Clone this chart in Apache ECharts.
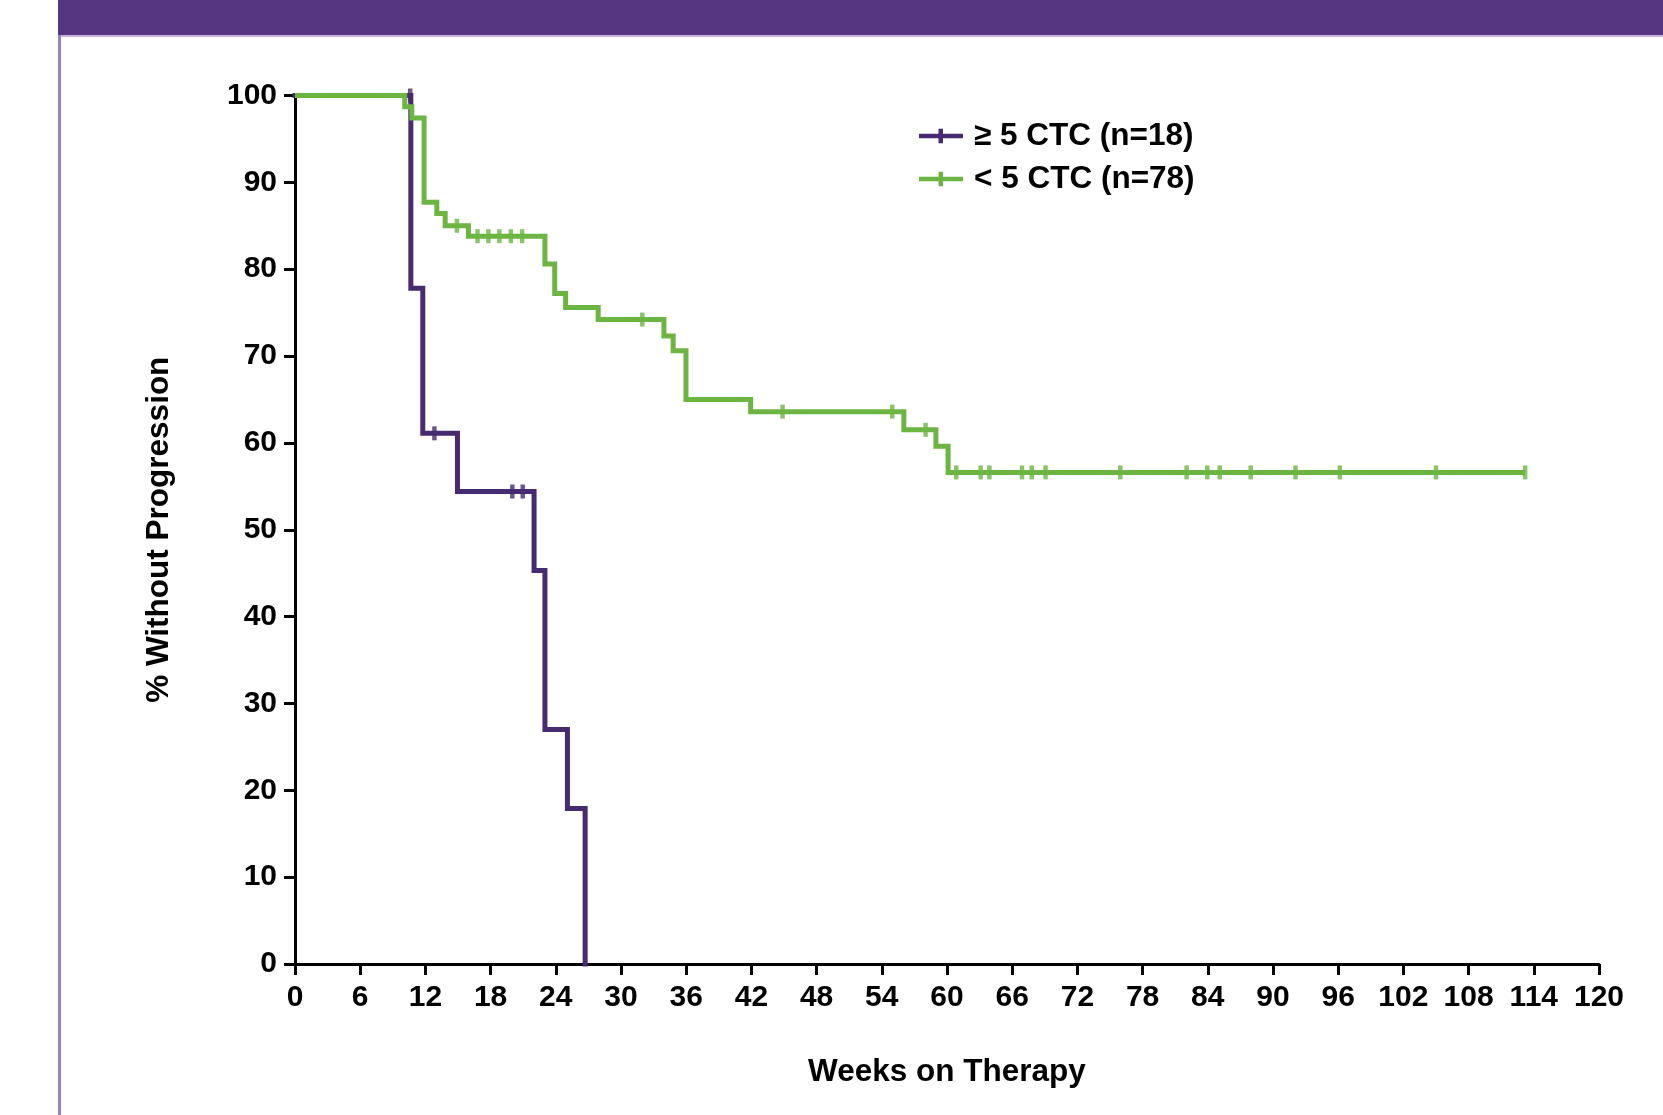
<!DOCTYPE html>
<html>
<head>
<meta charset="utf-8">
<script src="https://cdn.jsdelivr.net/npm/echarts@6/dist/echarts.min.js"></script>
<style>
html,body{margin:0;padding:0;background:#fff;}
#chart{width:1663px;height:1115px;}
</style>
</head>
<body>
<div id="chart"></div>
<script>
// ---- data ----
const seriesNames = ['≥ 5 CTC (n=18)', '< 5 CTC (n=78)'];
const xAxisTitle = 'Weeks on Therapy';
const yAxisTitle = '% Without Progression';

// ≥ 5 CTC : event times (weeks) and survival (%) after each event
const hiTimes = [10.66, 11.76, 14.95, 22.0, 23.0, 25.07, 26.7];
const hiSurv  = [77.8, 61.1, 54.4, 45.3, 27.0, 17.9, 0];
const hiCensor = [10.6, 12.83, 20.0, 20.96];

// < 5 CTC
const loTimes = [10.1, 10.75, 11.88, 13.05, 13.82, 15.96, 23.0, 23.9, 24.9, 27.9, 33.95, 34.8, 35.98, 41.93, 56.03, 58.98, 60.1];
const loSurv  = [98.7, 97.4, 87.7, 86.4, 85.0, 83.8, 80.6, 77.2, 75.6, 74.2, 72.3, 70.6, 65.0, 63.6, 61.5, 59.6, 56.6];
const loCensor = [14.9, 16.8, 17.8, 18.8, 19.86, 20.9, 31.96, 44.87, 54.96, 58.03, 60.85, 63.1, 63.9, 66.9, 67.8, 69.07, 75.95, 82.05, 83.95, 85.1, 87.95, 92.07, 96.15, 105.0, 113.2];

const xMin = 0, xMax = 120, xStep = 6;
const yMin = 0, yMax = 100, yStep = 10;

const purple = '#462B70';
const green = '#6DB543';
const FONT = '"Liberation Sans", Arial, Helvetica, sans-serif';

function stepPoints(times, surv, censors) {
  const pts = [[0, 100]];
  let prev = 100;
  for (let i = 0; i < times.length; i++) {
    pts.push([times[i], prev]);
    pts.push([times[i], surv[i]]);
    prev = surv[i];
  }
  const lastC = censors.length ? Math.max.apply(null, censors) : 0;
  if (lastC > times[times.length - 1]) pts.push([lastC, prev]);
  return pts;
}
function survAt(times, surv, t) {
  let s = 100;
  for (let i = 0; i < times.length; i++) { if (times[i] <= t) s = surv[i]; }
  return s;
}
function censorPoints(times, surv, censors) {
  return censors.map(t => [t, survAt(times, surv, t)]);
}

const chart = echarts.init(document.getElementById('chart'), null, {renderer: 'canvas'});
const axisText = {color: '#000', fontSize: 30, fontWeight: 'bold', fontFamily: FONT};
const titleText = {color: '#000', fontSize: 31.5, fontWeight: 'bold', fontFamily: FONT};
const legendIcon = 'path://M0,5L44,5L44,9.5L0,9.5Z M19.5,0L24,0L24,14.5L19.5,14.5Z';

chart.setOption({
  backgroundColor: '#fff',
  animation: false,
  graphic: [
    {type: 'rect', left: 58, top: 0, shape: {width: 1605, height: 35}, style: {fill: '#563681'}, z: 100},
    {type: 'rect', left: 58, top: 35, shape: {width: 1605, height: 2}, style: {fill: '#C6B8DC'}, z: 100},
    {type: 'rect', left: 58, top: 35, shape: {width: 3, height: 1080}, style: {fill: '#9A84BF'}, z: 100}
  ],
  grid: {left: 295, right: 64, top: 95.5, bottom: 151, containLabel: false},
  legend: {
    orient: 'vertical', left: 914, top: 115, itemWidth: 44, itemHeight: 14.5, itemGap: 11,
    icon: legendIcon,
    data: seriesNames,
    textStyle: {color: '#000', fontSize: 31.5, fontWeight: 'bold', fontFamily: FONT, padding: [0, 0, 0, 6]}
  },
  xAxis: {
    type: 'value', min: xMin, max: xMax, interval: xStep,
    name: xAxisTitle, nameLocation: 'middle', nameGap: 92,
    nameTextStyle: titleText,
    axisLine: {show: true, onZero: false, lineStyle: {color: '#000', width: 3}},
    axisTick: {show: true, length: 11, lineStyle: {color: '#000', width: 3}},
    axisLabel: Object.assign({margin: 19}, axisText),
    splitLine: {show: false}
  },
  yAxis: {
    type: 'value', min: yMin, max: yMax, interval: yStep,
    name: yAxisTitle, nameLocation: 'middle', nameGap: 120,
    nameTextStyle: titleText,
    axisLine: {show: true, onZero: false, lineStyle: {color: '#000', width: 3}},
    axisTick: {show: true, length: 11, lineStyle: {color: '#000', width: 3}},
    axisLabel: Object.assign({margin: 18}, axisText),
    splitLine: {show: false}
  },
  series: [
    {
      name: seriesNames[0], type: 'line', color: purple,
      data: stepPoints(hiTimes, hiSurv, hiCensor),
      showSymbol: false, symbol: 'none', clip: false,
      lineStyle: {color: purple, width: 5, cap: 'square', join: 'miter'}, z: 2
    },
    {
      name: 'hiCensor', type: 'scatter', color: purple,
      data: censorPoints(hiTimes, hiSurv, hiCensor),
      symbol: 'rect', symbolSize: [4.5, 14], itemStyle: {color: purple}, z: 2
    },
    {
      name: seriesNames[1], type: 'line', color: green,
      data: stepPoints(loTimes, loSurv, loCensor),
      showSymbol: false, symbol: 'none', clip: false,
      lineStyle: {color: green, width: 5, cap: 'butt', join: 'miter'}, z: 3
    },
    {
      name: 'loCensor', type: 'scatter', color: green,
      data: censorPoints(loTimes, loSurv, loCensor),
      symbol: 'rect', symbolSize: [4.5, 14], itemStyle: {color: green}, z: 3
    }
  ]
});
</script>
</body>
</html>
